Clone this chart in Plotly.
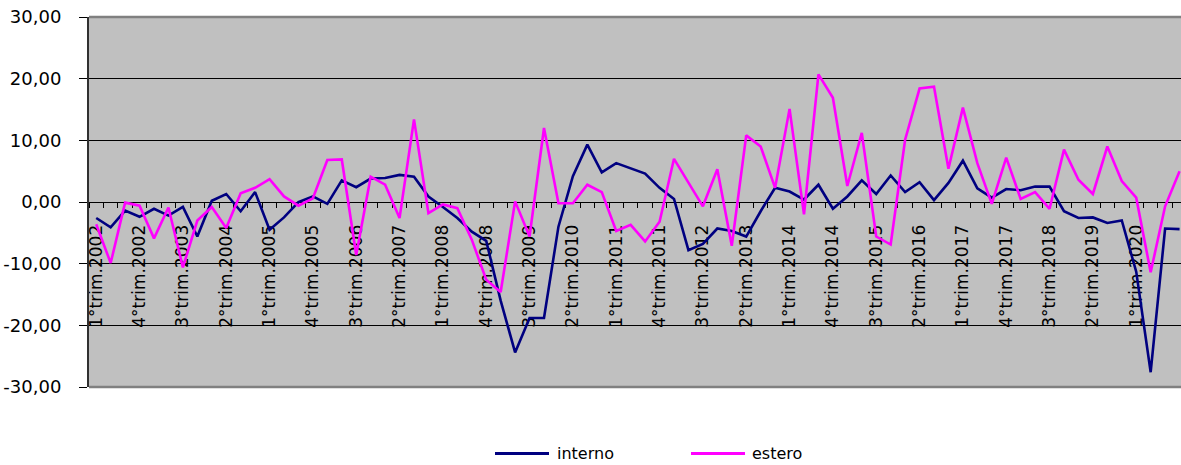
import plotly.graph_objects as go

# ---------------- data ----------------
quarters = ["1°", "2°", "3°", "4°"]
years = list(range(2002, 2021))
categories = [f"{q}trim.{y}" for y in years for q in quarters]  # 1°trim.2002 .. 4°trim.2020

interno = [
    -2.6, -4.1, -1.4, -2.4, -1.1, -2.2, -0.8, -5.6, 0.2, 1.3,
    -1.5, 1.6, -4.5, -2.5, 0.0, 0.9, -0.3, 3.5, 2.4, 3.8,
    3.9, 4.4, 4.1, 0.9, -0.8, -2.6, -4.8, -6.3, -16.0, -24.4,
    -18.8, -18.8, -4.0, 4.2, 9.3, 4.8, 6.3, 5.5, 4.6, 2.3,
    0.5, -7.8, -6.8, -4.3, -4.7, -5.6, -1.5, 2.3, 1.7, 0.4,
    2.8, -1.1, 0.9, 3.5, 1.3, 4.3, 1.6, 3.2, 0.3, 3.1,
    6.7, 2.2, 0.7, 2.1, 1.9, 2.5, 2.5, -1.5, -2.6, -2.5,
    -3.4, -3.0, -11.3, -27.6, -4.3, -4.4,
]

estero = [
    -3.6, -9.9, -0.1, -0.6, -5.9, -0.9, -10.6, -3.0, -0.8, -4.2,
    1.4, 2.3, 3.7, 0.9, -0.6, 0.6, 6.8, 6.9, -8.6, 4.1,
    2.8, -2.6, 13.4, -1.8, -0.4, -1.0, -6.1, -12.6, -14.6, 0.1,
    -5.6, 12.0, -0.2, -0.2, 2.8, 1.6, -4.7, -3.7, -6.4, -3.2,
    7.0, 3.1, -0.7, 5.3, -7.1, 10.8, 9.0, 2.3, 15.1, -2.0,
    20.7, 16.9, 2.6, 11.2, -5.6, -6.9, 10.1, 18.4, 18.7, 5.4,
    15.3, 6.3, -0.3, 7.2, 0.5, 1.6, -1.1, 8.5, 3.6, 1.3,
    9.0, 3.4, 0.7, -11.4, -0.7, 5.0,
]

series_names = ["interno", "estero"]
series_colors = ["#000080", "#FF00FF"]

label_every = 3
x_tickvals = list(range(0, len(categories), label_every))
x_ticktext = [categories[i] for i in x_tickvals]

y_tickvals = [-30, -20, -10, 0, 10, 20, 30]
y_ticktext = ["-30,00", "-20,00", "-10,00", "0,00", "10,00", "20,00", "30,00"]

# ---------------- figure ----------------
x_idx = list(range(len(categories)))
fig = go.Figure()
for name, vals, col in zip(series_names, [interno, estero], series_colors):
    fig.add_trace(go.Scatter(
        x=x_idx, y=vals, mode="lines", name=name,
        line=dict(color=col, width=2.6),
        customdata=categories,
        hovertemplate="%{customdata}: %{y:.2f}<extra>" + name + "</extra>",
        showlegend=False,
    ))

FONT = "DejaVu Sans"

fig.update_layout(
    width=1181, height=465,
    margin=dict(l=89, r=0, t=17, b=78),
    paper_bgcolor="white",
    plot_bgcolor="#C0C0C0",
    showlegend=False,
)

fig.update_xaxes(
    range=[-0.5, 75.1],
    anchor="free", position=0.5,
    showline=True, linecolor="black", linewidth=1,
    showgrid=False, zeroline=False,
    tickmode="array", tickvals=x_tickvals, ticktext=x_ticktext,
    tickangle=-90, ticks="",
    tickfont=dict(family=FONT, size=17, color="black"),
    ticklabelstandoff=15,
    minor=dict(tickmode="linear", tick0=0.5, dtick=1, ticks="outside",
               ticklen=5, tickcolor="black", tickwidth=1, showgrid=False),
    layer="below traces",
)

fig.update_yaxes(
    range=[-30, 30],
    tickmode="array", tickvals=y_tickvals, ticktext=y_ticktext,
    showgrid=True, gridcolor="black", gridwidth=1,
    zeroline=False,
    showline=True, linecolor="#303030", linewidth=2,
    ticks="outside", ticklen=8, tickcolor="black", tickwidth=1,
    tickfont=dict(family=FONT, size=18, color="black"),
    ticklabelstandoff=14,
)

# plot-area frame (top and bottom, grey)
for yy in (0, 1):
    fig.add_shape(type="line", xref="paper", yref="paper",
                  x0=0, x1=1, y0=yy, y1=yy,
                  line=dict(color="#808080", width=2.5), layer="above")

# manual legend at the bottom
plot_w = 1181 - 89
plot_h = 465 - 17 - 78
def px_x(p):
    return (p - 89) / plot_w
leg_y = (387.5 - 454) / plot_h
leg_items = [(495, 549, 555), (691, 745, 750)]
for (lx0, lx1, tx), name, col in zip(leg_items, series_names, series_colors):
    fig.add_shape(type="line", xref="paper", yref="paper",
                  x0=px_x(lx0), x1=px_x(lx1), y0=leg_y, y1=leg_y,
                  line=dict(color=col, width=3))
    fig.add_annotation(xref="paper", yref="paper", x=px_x(tx), y=leg_y,
                       text=name, showarrow=False, xanchor="left", yanchor="middle",
                       font=dict(family=FONT, size=16, color="black"))

fig.write_html(
    "out.html",
    config={"displayModeBar": False},
    post_script="document.body.style.margin='0';document.body.style.overflow='hidden';",
)
